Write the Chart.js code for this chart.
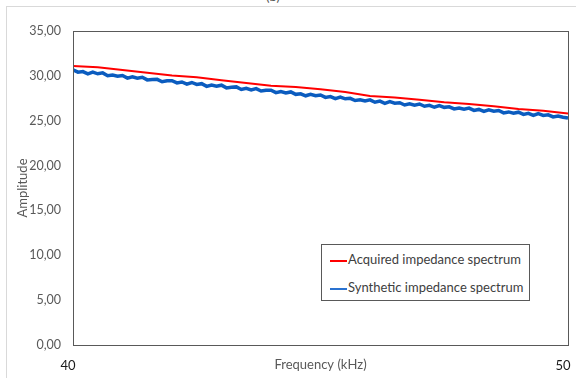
<!DOCTYPE html>
<html>
<head>
<meta charset="utf-8">
<script src="https://cdn.jsdelivr.net/npm/chart.js@4.4.1/dist/chart.umd.min.js"></script>
<style>
  body { margin: 0; background: #fff; }
  #wrap { position: relative; width: 576px; height: 378px; overflow: hidden; font-family: Lato, "Open Sans", sans-serif; }
  #frame { position: absolute; left: 6px; top: 6px; width: 575px; height: 380px; border: 1px solid #d9d9d9; box-sizing: border-box; }
  #cap { position: absolute; top: -12px; left: 0; width: 546px; text-align: center; font-size: 13px; color: #595959; }
  #chart { position: absolute; left: 0; top: 0; }
  #legend { position: absolute; left: 321px; top: 244px; width: 209px; height: 57px; border: 1px solid #595959; box-sizing: border-box; background: #fff; }
  .row { position: absolute; left: 8px; height: 16px; line-height: 16px; font-size: 13px; color: #404040; white-space: nowrap; }
  .row span.sw { display: inline-block; width: 17px; height: 2px; vertical-align: middle; margin-right: 1px; }
</style>
</head>
<body>
<div id="wrap">
  <div id="frame"></div>
  <div id="cap">(b)</div>
  <canvas id="chart" width="576" height="378"></canvas>
  <div id="legend"></div>
</div>
<script>
// acquired spectrum, read every 0.5 kHz
const acqFreq = [40, 40.5, 41, 41.5, 42, 42.5, 43, 43.5, 44, 44.5, 45, 45.5, 46, 46.5, 47, 47.5, 48, 48.5, 49, 49.5, 50];
const acqAmp = [31.10, 30.95, 30.65, 30.35, 30.05, 29.85, 29.50, 29.20, 28.90, 28.75, 28.50, 28.20, 27.75, 27.60, 27.35, 27.05, 26.85, 26.60, 26.30, 26.10, 25.80];

// synthetic spectrum, read every 0.1 kHz (noisy)
const synFreq = [40.0, 40.1, 40.2, 40.3, 40.4, 40.5, 40.6, 40.7, 40.8, 40.9,
  41.0, 41.1, 41.2, 41.3, 41.4, 41.5, 41.6, 41.7, 41.8, 41.9,
  42.0, 42.1, 42.2, 42.3, 42.4, 42.5, 42.6, 42.7, 42.8, 42.9,
  43.0, 43.1, 43.2, 43.3, 43.4, 43.5, 43.6, 43.7, 43.8, 43.9,
  44.0, 44.1, 44.2, 44.3, 44.4, 44.5, 44.6, 44.7, 44.8, 44.9,
  45.0, 45.1, 45.2, 45.3, 45.4, 45.5, 45.6, 45.7, 45.8, 45.9,
  46.0, 46.1, 46.2, 46.3, 46.4, 46.5, 46.6, 46.7, 46.8, 46.9,
  47.0, 47.1, 47.2, 47.3, 47.4, 47.5, 47.6, 47.7, 47.8, 47.9,
  48.0, 48.1, 48.2, 48.3, 48.4, 48.5, 48.6, 48.7, 48.8, 48.9,
  49.0, 49.1, 49.2, 49.3, 49.4, 49.5, 49.6, 49.7, 49.8, 49.9, 50.0];
const synAmp = [30.67, 30.41, 30.48, 30.22, 30.41, 30.23, 30.33, 30.01, 30.10, 29.95,
  30.04, 29.75, 29.89, 29.73, 29.84, 29.55, 29.59, 29.61, 29.34, 29.45,
  29.46, 29.21, 29.32, 29.07, 29.26, 29.04, 29.13, 28.83, 28.98, 28.85,
  28.96, 28.66, 28.74, 28.77, 28.48, 28.62, 28.44, 28.58, 28.31, 28.39,
  28.40, 28.13, 28.25, 28.10, 28.21, 27.94, 28.00, 27.78, 27.95, 27.79,
  27.87, 27.60, 27.69, 27.46, 27.64, 27.44, 27.50, 27.25, 27.33, 27.19,
  27.32, 27.06, 27.18, 26.94, 27.12, 26.95, 27.01, 26.75, 26.88, 26.74,
  26.86, 26.61, 26.72, 26.50, 26.69, 26.49, 26.55, 26.31, 26.42, 26.29,
  26.40, 26.15, 26.26, 26.03, 26.21, 26.05, 26.14, 25.87, 25.98, 25.83,
  25.95, 25.71, 25.82, 25.59, 25.78, 25.59, 25.66, 25.42, 25.52, 25.39, 25.30];

const seriesNames = ["Acquired impedance spectrum", "Synthetic impedance spectrum"];
const seriesColors = ["#ff0000", "#0b5cbf"];
const legendColors = ["#ff0000", "#2a72d0"];

const toPts = (xs, ys) => xs.map((x, i) => ({ x: x, y: ys[i] }));

// box round the plot area
const plotBox = {
  id: "plotBox",
  afterDraw(chart) {
    const { ctx, chartArea: a } = chart;
    ctx.save();
    ctx.strokeStyle = "#595959";
    ctx.lineWidth = 1;
    ctx.strokeRect(Math.round(a.left) + 0.5, Math.round(a.top) + 0.5, Math.round(a.right - a.left), Math.round(a.bottom - a.top));
    ctx.restore();
  }
};

const fontFam = "Lato, 'Open Sans', sans-serif";

new Chart(document.getElementById("chart"), {
  type: "line",
  data: {
    datasets: [
      { label: seriesNames[0], data: toPts(acqFreq, acqAmp), borderColor: seriesColors[0], borderWidth: 2, pointRadius: 0, tension: 0, order: 1 },
      { label: seriesNames[1], data: toPts(synFreq, synAmp), borderColor: seriesColors[1], borderWidth: 3.5, pointRadius: 0, tension: 0, order: 2 }
    ]
  },
  options: {
    responsive: false,
    animation: false,
    layout: { padding: { left: 8, top: 31, right: 8, bottom: 0 } },
    plugins: { legend: { display: false }, tooltip: { enabled: false } },
    scales: {
      x: {
        type: "linear",
        min: 40, max: 50,
        grid: { display: false, drawTicks: false },
        border: { display: false },
        ticks: { stepSize: 10, padding: 13, labelOffset: -5, color: "#1a1a1a", font: { family: fontFam, size: 13 }, maxRotation: 0 },
        title: { display: true, text: "Frequency (kHz)", color: "#595959", font: { family: fontFam, size: 13 }, padding: { top: 0, bottom: 5 } },
        afterFit(s) { s.height = 33; s.paddingLeft = 0; s.paddingRight = 0; }
      },
      y: {
        min: 0, max: 35,
        grid: { display: false, drawTicks: false },
        border: { display: false },
        ticks: { stepSize: 5, padding: 12, color: "#595959", font: { family: fontFam, size: 12.5 },
          callback: v => v.toFixed(2).replace(".", ",") },
        title: { display: true, text: "Amplitude", color: "#595959", font: { family: fontFam, size: 13 }, padding: { top: 7, bottom: 0 } },
        afterFit(s) { s.width = 65; }
      }
    }
  },
  plugins: [plotBox]
});

// legend drawn inside the plot, bottom right
const leg = document.getElementById("legend");
seriesNames.forEach((name, i) => {
  const row = document.createElement("div");
  row.className = "row";
  row.style.top = (6 + i * 28) + "px";
  row.innerHTML = '<span class="sw" style="background:' + legendColors[i] + '"></span>' + name;
  leg.appendChild(row);
});
</script>
</body>
</html>
